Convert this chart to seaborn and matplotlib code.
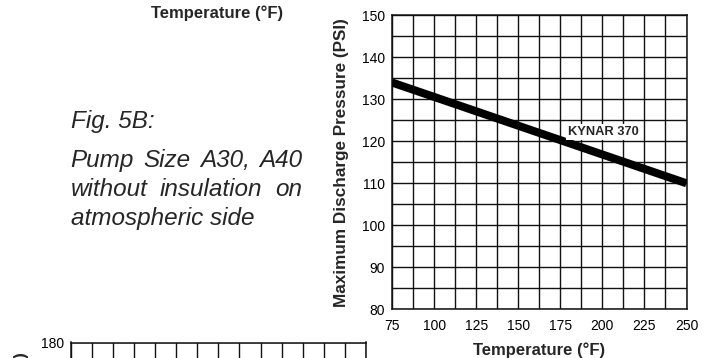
import matplotlib
matplotlib.use("Agg")
import matplotlib.pyplot as plt
import seaborn as sns
import pandas as pd
import numpy as np

# ---- data ----
temperature_f = [75, 250]
max_pressure_psi = [134, 110]
series_label = "KYNAR 370"
x_ticks = [75, 100, 125, 150, 175, 200, 225, 250]
y_ticks = [80, 90, 100, 110, 120, 130, 140, 150]
lower_y_ticks = [110, 120, 130, 140, 150, 160, 170, 180]
fig_title = "Fig. 5B:"
caption_lines = [["Pump", "Size", "A30,", "A40"],
                 ["without", "insulation", "on"]]
caption_last = "atmospheric side"
x_label = "Temperature (°F)"
y_label = "Maximum Discharge Pressure (PSI)"

sns.set_style("white")
plt.rcParams['font.family'] = ['Liberation Sans', 'DejaVu Sans']

W, H = 706, 358
fig = plt.figure(figsize=(W / 100, H / 100), dpi=100)


def fx(px):
    return px / W


def fy(py):
    return 1 - py / H


def style_axes(ax, xlim, ylim, xt, yt):
    ax.set_xlim(*xlim)
    ax.set_ylim(*ylim)
    ax.set_xticks(xt)
    ax.set_yticks(yt)
    ax.set_xticks(np.arange(xlim[0], xlim[1] + 0.01, 12.5), minor=True)
    ax.set_yticks(np.arange(ylim[0], ylim[1] + 0.01, 5), minor=True)
    ax.grid(True, which='both', color='#111111', linewidth=1.0)
    ax.set_axisbelow(True)
    for s in ax.spines.values():
        s.set_visible(True)
        s.set_color('#111111')
        s.set_linewidth(1.1)
    ax.tick_params(which='both', length=0, labelsize=10, colors='black', pad=5)
    ax.tick_params(axis='x', pad=7)


# ---- main chart ----
ax = fig.add_axes([fx(392), fy(309.3), fx(686.5) - fx(392), fy(15.3) - fy(309.3)])
df = pd.DataFrame({"Temperature": temperature_f, "Pressure": max_pressure_psi})
sns.lineplot(data=df, x="Temperature", y="Pressure", ax=ax, color='black',
             linewidth=5.8, solid_capstyle='butt', zorder=5)
style_axes(ax, (75, 250), (80, 150), x_ticks, y_ticks)
ax.set_xlabel(x_label, fontsize=12, fontweight='bold', labelpad=7)
ax.set_ylabel(y_label, fontsize=12.3, fontweight='bold', labelpad=9)
ax.text(200.6, 122.3, series_label, ha='center', va='center', fontsize=9.3,
        fontweight='bold', zorder=6,
        bbox=dict(facecolor='white', edgecolor='none', pad=1.5))

# ---- lower chart (partially visible) ----
ax2 = fig.add_axes([fx(70.7), fy(342.5) - (fy(15.3) - fy(309.3)),
                    fx(366) - fx(70.7), fy(15.3) - fy(309.3)])
style_axes(ax2, (75, 250), (110, 180), x_ticks, lower_y_ticks)
ax2.set_xticklabels([])
ax2.set_ylabel("")
fig.text(fx(22), fy(352), y_label, rotation=90, ha='center', va='top',
         fontsize=12.3, fontweight='bold')

# ---- upper chart's x label (cropped chart above) ----
fig.text(fx(217), fy(13), x_label, ha='center', va='center',
         fontsize=12, fontweight='bold')

# ---- caption ----
cap_kw = dict(fontsize=17.5, style='italic', va='baseline')
fig.text(fx(70.7), fy(128), fig_title, **cap_kw)
fig.canvas.draw()
renderer = fig.canvas.get_renderer()
x0, x1 = 70.7, 302
for words, base in zip(caption_lines, [166.7, 195.5]):
    texts = [fig.text(0, fy(base), w, **cap_kw) for w in words]
    widths = [t.get_window_extent(renderer).width for t in texts]
    gap = (x1 - x0 - sum(widths)) / (len(words) - 1)
    x = x0
    for t, w in zip(texts, widths):
        t.set_x(fx(x))
        x += w + gap
fig.text(fx(70.7), fy(224.5), caption_last, **cap_kw)

fig.savefig("out.png", dpi=100)
